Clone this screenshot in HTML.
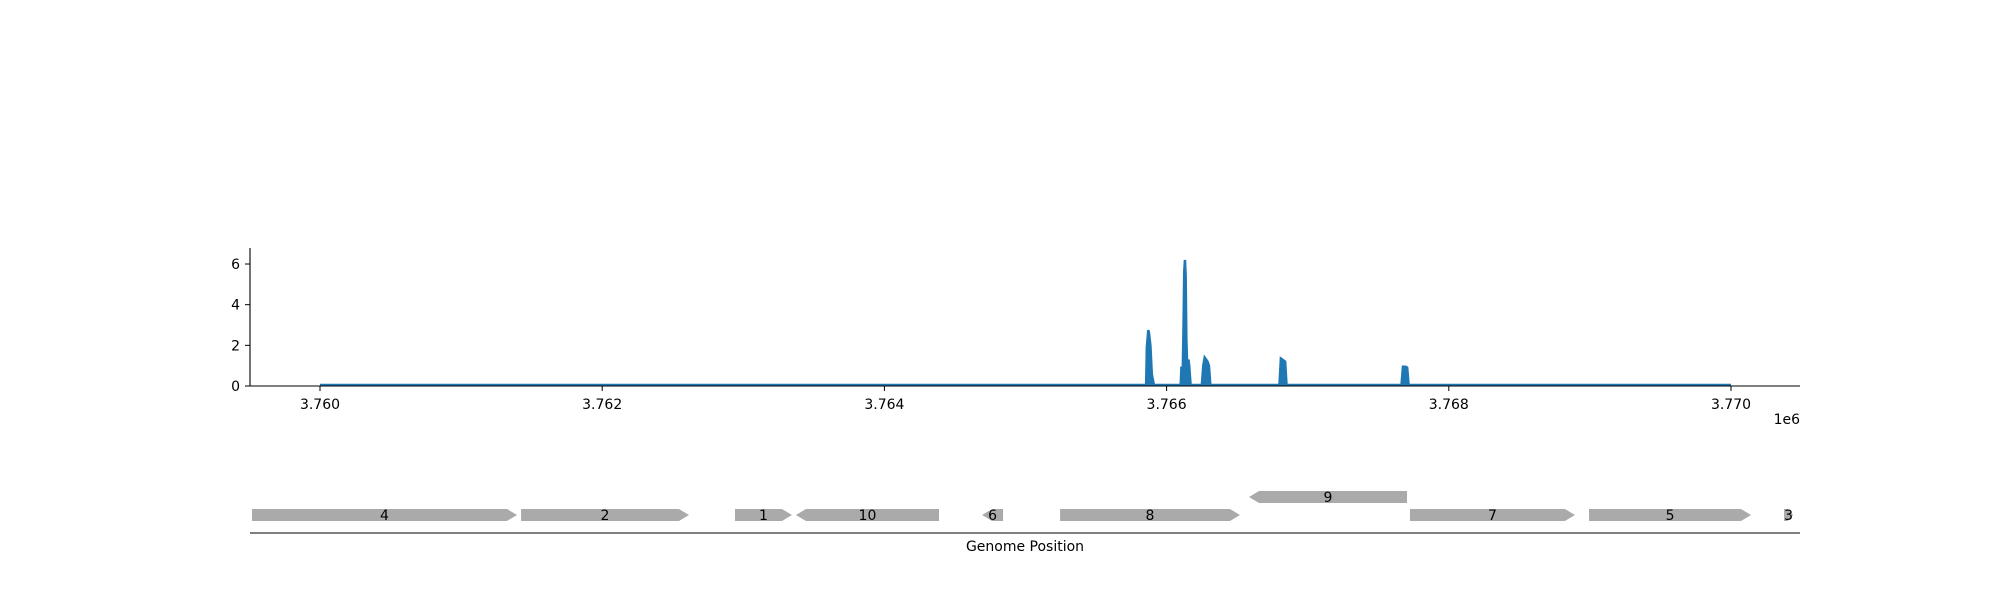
<!DOCTYPE html>
<html><head><meta charset="utf-8"><style>
body{margin:0;background:#fff;width:2000px;height:600px;overflow:hidden}
svg{display:block;font-family:"DejaVu Sans","Liberation Sans",sans-serif}
</style></head><body>
<svg id="chart" width="2000" height="600"></svg>
<script>
const covPositions=[3760000,3765855,3765860,3765865,3765870,3765875,3765880,3765885,3765890,3765895,3765900,3765910,3766100,3766105,3766110,3766115,3766120,3766125,3766130,3766135,3766140,3766145,3766150,3766155,3766160,3766170,3766250,3766260,3766270,3766280,3766290,3766300,3766310,3766800,3766810,3766820,3766830,3766840,3766850,3767665,3767675,3767685,3767695,3767705,3767715,3770000];
const covValues=[0.05,0.05,1.9,2.3,2.75,2.6,2.3,2.0,1.3,0.6,0.4,0.05,0.05,0.9,0.9,0.9,2.9,5.6,6.2,5.4,2.3,1.2,0.9,1.3,1.0,0.05,0.05,1.0,1.4,1.3,1.2,1.0,0.05,0.05,1.35,1.3,1.25,1.2,0.05,0.05,0.95,0.95,0.95,0.9,0.05,0.05];
const xTicks=[3760000,3762000,3764000,3766000,3768000,3770000];
const xTickLabels=["3.760","3.762","3.764","3.766","3.768","3.770"];
const yTicks=[0,2,4,6];
const geneLabels=["4","2","1","10","6","8","9","7","5","3"];
const geneStarts=[3759518,3761425,3762941,3763373,3764692,3765245,3766584,3767725,3768994,3770376];
const geneEnds=[3761396,3762615,3763345,3764387,3764841,3766520,3767704,3768894,3770142,3770440];
const geneStrands=[1,1,1,-1,-1,1,-1,1,1,1];
const geneRows=[0,0,0,0,0,0,1,0,0,0];

const NS="http://www.w3.org/2000/svg";
const svg=document.getElementById('chart');
const X=v=>320+(v-3760000)*0.1411;
const Y=v=>386-v*20.33;
function mk(t,a){const e=document.createElementNS(NS,t);for(const k in a)e.setAttribute(k,a[k]);svg.appendChild(e);return e;}

let pts=covPositions.map((p,i)=>X(p).toFixed(2)+','+Y(covValues[i]).toFixed(2));
const area=mk('polygon',{points:X(covPositions[0])+','+Y(0)+' '+pts.join(' ')+' '+X(covPositions[covPositions.length-1])+','+Y(0),fill:'#1f77b4'});


const line=mk('polyline',{points:pts.join(' '),fill:'none',stroke:'#1f77b4','stroke-width':2.5,'stroke-linejoin':'miter'});



const ya=mk('line',{x1:250,y1:248,x2:250,y2:386,stroke:'#000','stroke-width':1.1});


const xa=mk('line',{x1:250,y1:386,x2:1800,y2:386,stroke:'#000','stroke-width':1.1});


yTicks.forEach(v=>{
  mk('line',{x1:245,y1:Y(v),x2:250,y2:Y(v),stroke:'#000'});
  const t=mk('text',{x:240,y:Y(v)+5,'text-anchor':'end','font-size':14});
  t.textContent=v;
  
  
});
xTicks.forEach((v,i)=>{
  mk('line',{x1:X(v),y1:386,x2:X(v),y2:391,stroke:'#000'});
  const t=mk('text',{x:X(v),y:409,'text-anchor':'middle','font-size':14});
  t.textContent=xTickLabels[i];
  
  
});
const off=mk('text',{x:1800,y:424,'text-anchor':'end','font-size':14});
off.textContent='1e6';



geneLabels.forEach((lab,i)=>{
  const x1=X(geneStarts[i]),x2=X(geneEnds[i]);
  const top=geneRows[i]?491:509,bot=top+12,mid=top+6;
  const h=Math.min(10,(x2-x1)*0.6);
  let p;
  if(geneStrands[i]>0)p=`${x1},${top} ${x2-h},${top} ${x2},${mid} ${x2-h},${bot} ${x1},${bot}`;
  else p=`${x1+h},${top} ${x2},${top} ${x2},${bot} ${x1+h},${bot} ${x1},${mid}`;
  const g=mk('polygon',{points:p,fill:'#aaaaaa'});
  
  
  const t=mk('text',{x:(x1+x2)/2,y:mid+5,'text-anchor':'middle','font-size':14});
  t.textContent=lab;
  
  
});
const ga=mk('line',{x1:250,y1:533,x2:1800,y2:533,stroke:'#000','stroke-width':1.1});


const gt=mk('text',{x:1025,y:551,'text-anchor':'middle','font-size':14});
gt.textContent='Genome Position';


</script>
</body></html>
